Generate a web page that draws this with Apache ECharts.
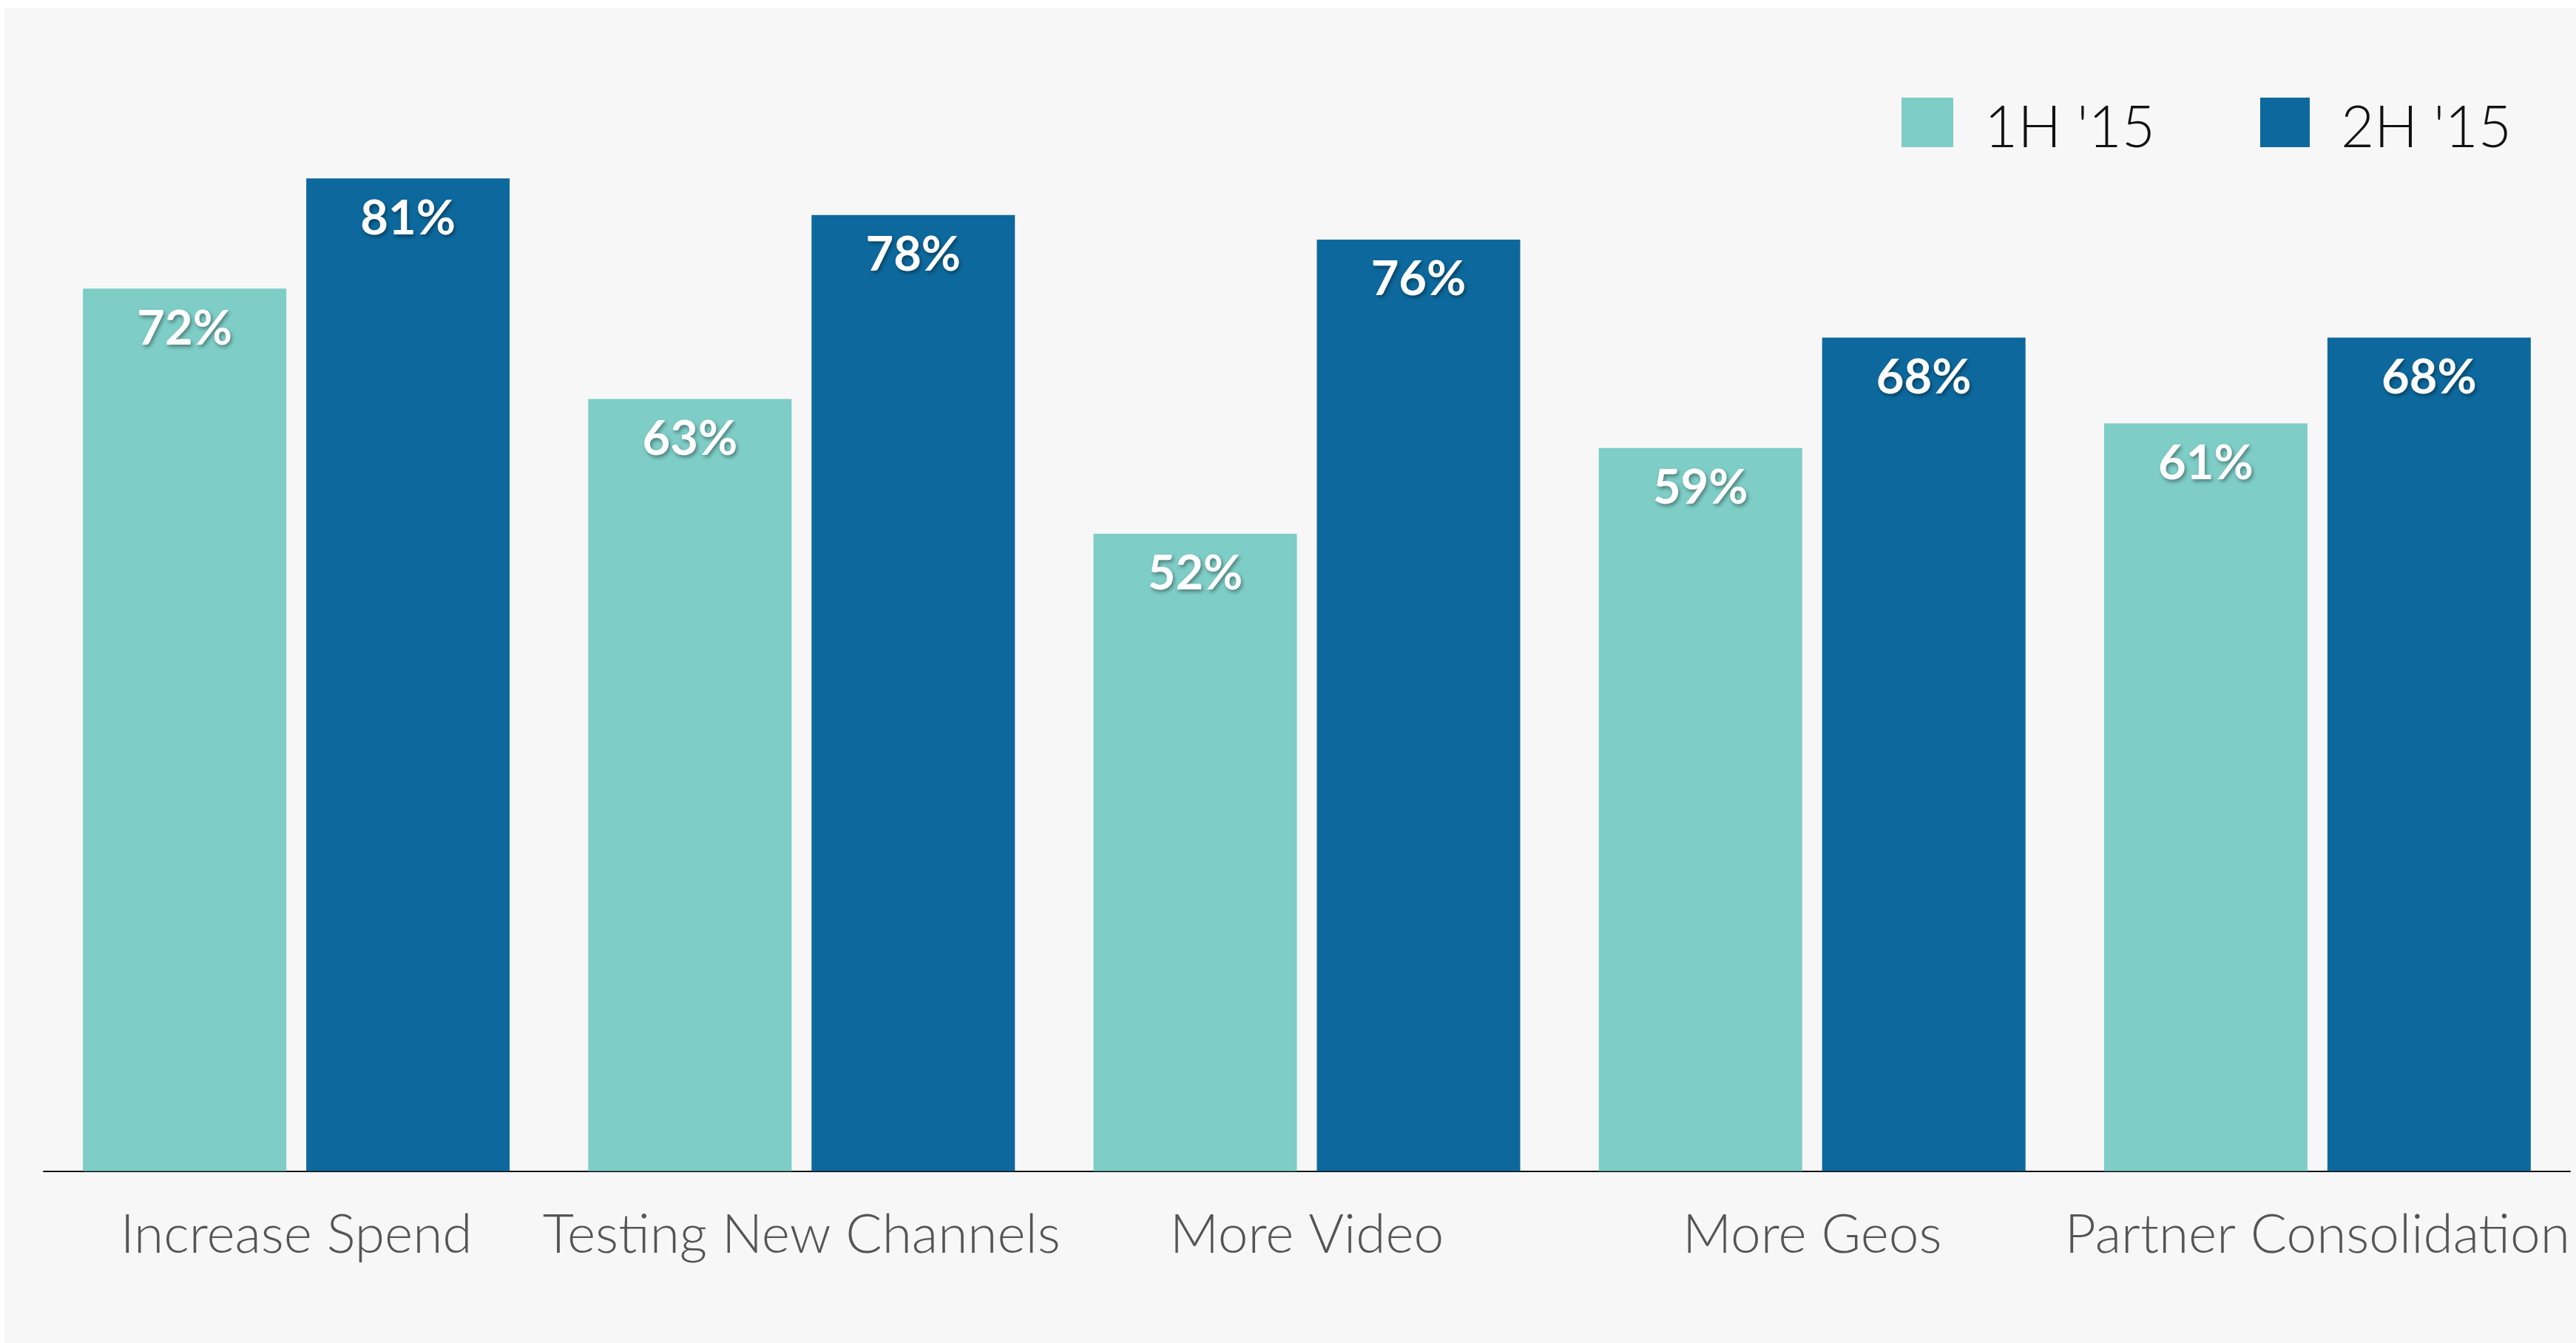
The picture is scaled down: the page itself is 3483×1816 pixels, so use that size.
<!DOCTYPE html>
<html>
<head>
<meta charset="utf-8">
<script src="https://cdn.jsdelivr.net/npm/echarts@6/dist/echarts.min.js"></script>
<style>
  html, body { margin: 0; padding: 0; background: #ffffff; }
  #chart { position: absolute; left: 6px; top: 11px; width: 3477px; height: 1805px; background: #f7f7f7; }
</style>
</head>
<body>
<div id="chart"></div>
<script>
// Planned ad spend changes, share of respondents by half-year
const categories = ['Increase Spend', 'Testing New Channels', 'More Video', 'More Geos', 'Partner Consolidation'];
const seriesNames = ["1H '15", "2H '15"];
const firstHalf = [72, 63, 52, 59, 61];
const secondHalf = [81, 78, 76, 68, 68];

const colors = ['#7ecdc7', '#0d699d'];

const valueLabel = {
  show: true,
  position: 'insideTop',
  distance: 22,
  formatter: '{c}%',
  color: '#ffffff',
  fontFamily: 'Lato',
  fontWeight: 'bold',
  fontSize: 65,
  textShadowColor: 'rgba(0,0,0,0.38)',
  textShadowBlur: 5,
  textShadowOffsetX: 2,
  textShadowOffsetY: 3
};

// Legend caption sits slightly below the swatch centre
const legendText = {
  fontFamily: 'Lato',
  fontWeight: 300,
  fontSize: 78,
  color: '#111111',
  rich: {
    t: {
      fontFamily: 'Lato',
      fontWeight: 300,
      fontSize: 78,
      color: '#111111',
      padding: [16, 0, 0, 37]
    }
  }
};

const legendBase = {
  padding: 0, top: 121,
  itemHeight: 67, icon: 'rect',
  formatter: '{t|{name}}',
  textStyle: legendText,
  selectedMode: false
};

const chart = echarts.init(document.getElementById('chart'), null, { renderer: 'canvas' });
chart.setOption({
  backgroundColor: 'transparent',
  animation: false,
  color: colors,
  legend: [
    Object.assign({}, legendBase, { data: [seriesNames[0]], left: 2565, itemWidth: 70 }),
    Object.assign({}, legendBase, { data: [seriesNames[1]], left: 3050, itemWidth: 67 })
  ],
  grid: {
    left: 53, right: 8, top: 81, bottom: 232.5,
    containLabel: false,
    outerBoundsMode: 'none'
  },
  xAxis: {
    type: 'category',
    data: categories,
    axisLine: { show: true, lineStyle: { color: '#111111', width: 2 } },
    axisTick: { show: false },
    axisLabel: {
      margin: 50,
      interval: 0,
      fontFamily: 'Lato',
      fontWeight: 300,
      fontSize: 73,
      color: '#555555'
    }
  },
  yAxis: {
    type: 'value',
    min: 0,
    max: 90,
    show: false,
    splitLine: { show: false }
  },
  series: [
    {
      name: seriesNames[0], type: 'bar', data: firstHalf,
      barWidth: 275, barGap: '9.8%',
      itemStyle: { color: colors[0] },
      label: valueLabel
    },
    {
      name: seriesNames[1], type: 'bar', data: secondHalf,
      barWidth: 275, barGap: '9.8%',
      itemStyle: { color: colors[1] },
      label: valueLabel
    }
  ]
});
</script>
</body>
</html>
